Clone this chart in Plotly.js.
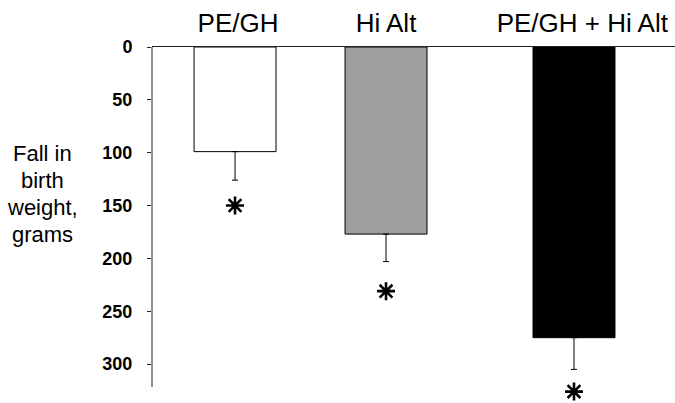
<!DOCTYPE html>
<html>
<head>
<meta charset="utf-8">
<script src="https://cdn.plot.ly/plotly-3.0.1.min.js"></script>
<style>html,body{margin:0;padding:0;background:#fff;}#chart{width:675px;height:403px;}</style>
</head>
<body>
<div id="chart"></div>
<script>
// Data
var categories = ["PE/GH", "Hi Alt", "PE/GH + Hi Alt"];
var fallInWeight = [99, 177, 275];      // grams
var errorPlus = [27, 26, 30];           // grams (SE, drawn downward)
var significanceY = [150, 231, 326];    // asterisk positions (grams)
var yTicks = [0, 50, 100, 150, 200, 250, 300];
var yTitleLines = ["Fall in", "birth", "weight,", "grams"];

// Layout-only: category slot positions (the third group sits further right)
var slotPos = [1, 2, 3.245];
var labelPos = [1.02, 2, 3.30];
var barColors = ["#ffffff", "#9e9e9e", "#000000"];
var axisEnd = 321.7;   // where the drawn y-axis line stops
var titleLineY = [100.7, 126.2, 151.8, 177.3];

var font = "Liberation Sans, Arial, Helvetica, sans-serif";

var bars = {
  type: "bar",
  x: slotPos,
  y: fallInWeight,
  width: 0.543,
  marker: {color: barColors, line: {color: "#000", width: 1}},
  error_y: {type: "data", symmetric: false, array: errorPlus,
            arrayminus: [0, 0, 0], color: "#000", thickness: 1, width: 3},
  hoverinfo: "none",
  showlegend: false
};

var stars = {
  type: "scatter",
  mode: "markers",
  x: slotPos,
  y: significanceY,
  marker: {symbol: "asterisk-open", size: 15, color: "#000",
           line: {color: "#000", width: 2.6}},
  cliponaxis: false,
  hoverinfo: "none",
  showlegend: false
};

var layout = {
  width: 675, height: 403,
  margin: {l: 152, r: 0, t: 47, b: 0, pad: 0},
  paper_bgcolor: "#fff", plot_bgcolor: "#fff",
  font: {family: font, color: "#000"},
  xaxis: {
    side: "top",
    range: [0.45, 3.914],
    tickvals: labelPos,
    ticktext: categories,
    ticks: "",
    showline: true, linecolor: "#222", linewidth: 1,
    showgrid: false, zeroline: false,
    tickfont: {size: 26, family: font, color: "#000"},
    ticklabelstandoff: 4,
    fixedrange: true
  },
  yaxis: {
    range: [336.8, 0],
    tickvals: yTicks,
    ticktext: yTicks.map(String),
    ticks: "outside", ticklen: 4, tickcolor: "#222", tickwidth: 1,
    showline: false,
    showgrid: false, zeroline: false,
    tickfont: {size: 18, family: font, color: "#000", weight: "bold"},
    ticklabelstandoff: 11,
    fixedrange: true
  },
  shapes: [{
    type: "line", xref: "paper", yref: "y",
    x0: 0, x1: 0, y0: 0, y1: axisEnd,
    line: {color: "#222", width: 1}
  }],
  annotations: yTitleLines.map(function (t, i) {
    return {
      xref: "paper", yref: "y",
      x: (42 - 152) / 523, y: titleLineY[i],
      xanchor: "center", yanchor: "middle",
      text: t, showarrow: false,
      font: {size: 22, family: font, color: "#000"}
    };
  })
};

Plotly.newPlot("chart", [bars, stars], layout, {displayModeBar: false, staticPlot: true});
</script>
</body>
</html>
